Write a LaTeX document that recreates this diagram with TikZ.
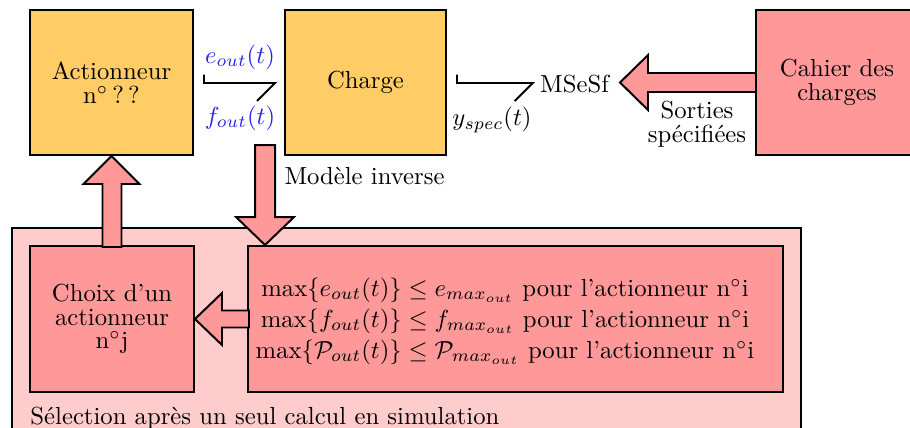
\documentclass[tikz,border=0pt]{standalone}
\usepackage{fontspec}
\usetikzlibrary{calc}
\definecolor{orangebox}{RGB}{255,204,102}
\definecolor{pinkbox}{RGB}{255,153,153}
\definecolor{lightpink}{RGB}{255,204,204}
\definecolor{bondblue}{RGB}{35,35,240}
\newcommand{\PX}{0.405pt}
\tikzset{
  sysbox/.style={draw, line width=0.8pt, align=center, inner sep=0pt,
    font=\fontsize{10}{9.6}\selectfont},
  blockarrow/.style={draw, line width=0.8pt, fill=pinkbox, line join=miter},
  bond/.style={line width=0.8pt},
  lbl/.style={inner sep=0pt, align=center, font=\fontsize{10}{9.6}\selectfont},
}
\begin{document}
\begin{tikzpicture}[x=0.405pt,y=-0.405pt]
\useasboundingbox (0,0) rectangle (910,427);
\clip (0,0) rectangle (910,427);

% outer selection frame
\node[draw, line width=0.8pt, fill=lightpink, minimum width=789*\PX, minimum height=220*\PX, inner sep=0pt] (outer) at (406.5,338) {};
\node[lbl, anchor=base west] (sel) at (30,424) {Sélection après un seul calcul en simulation};

% top row
\node[sysbox, fill=orangebox, minimum width=163*\PX, minimum height=145*\PX] (act) at (111.5,82.5) {Actionneur\\n$^\circ$\,?\,?};
\node[sysbox, fill=orangebox, minimum width=161*\PX, minimum height=145*\PX] (charge) at (365.5,82.5) {Charge};
\node[lbl] (mses) at (574.5,84.5) {MSeSf};

% bonds
\node[lbl, text=bondblue] (eout) at (240,57) {$e_{out}(t)$};
\node[lbl, text=bondblue] (fout) at (240,118) {$f_{out}(t)$};
\draw[bond] ($(act.east)+(10,-8)$) -- ++(0,8.5) -- ($(charge.west)+(-9,0.5)$) -- ++(-18,18);
\node[lbl] (yspec) at (492,120) {$y_{spec}(t)$};
\draw[bond] ($(charge.east)+(10,-8)$) -- ++(0,8.5) -- ($(mses.west)+(-7,-1.5)$) -- ++(-18,18);

% cahier des charges
\draw[blockarrow] (620,82.5) coordinate (cdctip) -- ++(28,-27.5) -- ++(0,18) -- ++(108,0) -- ++(0,19) -- ++(-108,0) -- ++(0,18) -- cycle;
\node[sysbox, fill=pinkbox, minimum width=162*\PX, minimum height=145*\PX] (cdc) at (837,82.5) {Cahier des\\charges};
\node[lbl] (sorties) at (697,124) {Sorties\\spécifiées};

% modele inverse
\node[lbl, anchor=west] (modinv) at ($(charge.south west)+(0,20)$) {Modèle inverse};

% bottom boxes
\node[sysbox, fill=pinkbox, minimum width=164*\PX, minimum height=146*\PX] (choix) at (112,319) {Choix d’un\\actionneur\\n$^\circ$j};
\node[sysbox, fill=pinkbox, minimum width=535*\PX, minimum height=146*\PX] (cond) at (515.5,319) {};
\node[lbl, font=\fontsize{10}{12.6}\selectfont] (condtxt) at (505,321) {%
$\max\{e_{out}(t)\} \leq e_{max_{out}}$ pour l’actionneur n$^\circ$i\\
$\max\{f_{out}(t)\} \leq f_{max_{out}}$ pour l’actionneur n$^\circ$i\\
$\max\{\mathcal{P}_{out}(t)\} \leq \mathcal{P}_{max_{out}}$ pour l’actionneur n$^\circ$i};

% block arrows
\draw[blockarrow] (act.south) -- ++(28,28) -- ++(-18,0) -- ++(0,63) -- ++(-19,0) -- ++(0,-63) -- ++(-19,0) -- cycle;
\draw[blockarrow] ($(cond.north west)+(18,0)$) -- ++(29,-28) -- ++(-19,0) -- ++(0,-72) -- ++(-20,0) -- ++(0,72) -- ++(-19,0) -- cycle;
\draw[blockarrow] (choix.east) -- ++(27,-26) -- ++(0,17.5) -- ++(27,0) -- ++(0,17) -- ++(-27,0) -- ++(0,17.5) -- cycle;
\end{tikzpicture}
\end{document}
